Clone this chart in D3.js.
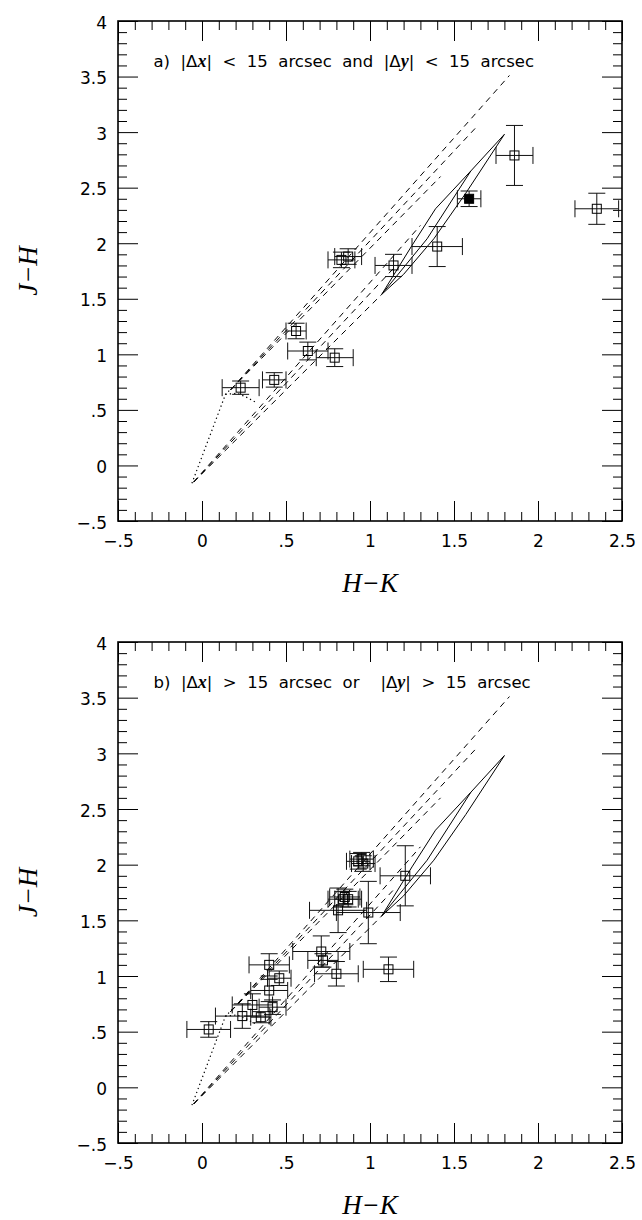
<!DOCTYPE html>
<html>
<head>
<meta charset="utf-8">
<script src="https://cdn.jsdelivr.net/npm/d3@7"></script>
<style>
  body { margin: 0; background: #fff; }
  svg { display: block; }
</style>
</head>
<body>
<svg id="chart" width="642" height="1220"></svg>
<script>
// ---------- axis ticks ----------
const xMajor = [-0.5, 0, 0.5, 1, 1.5, 2, 2.5];
const xTickLabels = ["\u2212.5", "0", ".5", "1", "1.5", "2", "2.5"];
const yMajor = [-0.5, 0, 0.5, 1, 1.5, 2, 2.5, 3, 3.5, 4];
const yTickLabels = ["\u2212.5", "0", ".5", "1", "1.5", "2", "2.5", "3", "3.5", "4"];

// ---------- panel a: |dx| < 15" and |dy| < 15" ----------
const hkA    = [0.23, 0.43, 0.56, 0.63, 0.79, 0.83, 0.87, 1.14, 1.40, 1.59, 1.86, 2.35];
const jhA    = [0.70, 0.77, 1.21, 1.03, 0.97, 1.85, 1.88, 1.80, 1.97, 2.40, 2.79, 2.31];
const hkErrA = [0.11, 0.07, 0.06, 0.12, 0.11, 0.08, 0.08, 0.11, 0.15, 0.07, 0.11, 0.13];
const jhErrA = [0.06, 0.065, 0.07, 0.08, 0.08, 0.07, 0.07, 0.10, 0.18, 0.07, 0.27, 0.14];
const filledA = [0, 0, 0, 0, 0, 0, 0, 0, 0, 1, 0, 0];

// ---------- panel b: |dx| > 15" or |dy| > 15" ----------
const hkB    = [0.04, 0.24, 0.30, 0.35, 0.42, 0.40, 0.46, 0.40, 0.71, 0.72, 0.80, 1.11, 0.99, 0.81, 0.84, 0.87, 0.85, 1.21, 0.93, 0.95, 0.96];
const jhB    = [0.52, 0.64, 0.74, 0.63, 0.72, 0.87, 0.98, 1.10, 1.22, 1.14, 1.02, 1.06, 1.57, 1.59, 1.69, 1.69, 1.71, 1.90, 2.03, 2.05, 2.01];
const hkErrB = [0.13, 0.16, 0.12, 0.06, 0.08, 0.11, 0.07, 0.12, 0.17, 0.09, 0.13, 0.15, 0.19, 0.17, 0.09, 0.08, 0.09, 0.15, 0.07, 0.07, 0.07];
const jhErrB = [0.07, 0.11, 0.10, 0.05, 0.065, 0.10, 0.065, 0.10, 0.14, 0.06, 0.11, 0.11, 0.28, 0.20, 0.07, 0.07, 0.07, 0.27, 0.07, 0.06, 0.07];
const filledB = hkB.map(() => 0);

// ---------- loci (same in both panels) ----------
// main sequence and late-type dwarf branch (dotted)
const mainSeq = [[-0.06, -0.16], [0.14, 0.64], [0.18, 0.70]];
const dwarfBranch = [[0.14, 0.64], [0.21, 0.65], [0.27, 0.61], [0.33, 0.56]];
// reddening vectors (dashed)
const reddenUpper = [
  [[0.17, 0.68], [1.83, 3.51]],
  [[0.17, 0.68], [1.63, 3.04]],
  [[0.17, 0.68], [1.42, 2.60]]
];
const reddenLower = [
  [[-0.05, -0.15], [1.30, 2.16]],
  [[-0.05, -0.15], [1.15, 1.79]],
  [[-0.05, -0.15], [1.07, 1.54]]
];
// solid model loci
const solidLoci = [
  [[1.07, 1.54], [1.25, 1.98], [1.39, 2.31], [1.60, 2.65], [1.80, 2.98]],
  [[1.07, 1.54], [1.20, 1.72], [1.38, 2.04], [1.57, 2.45], [1.80, 2.98]],
  [[1.07, 1.54], [1.34, 2.04], [1.60, 2.65]]
];

const titleA = "a) |\u0394{x}| < 15 arcsec and |\u0394{y}| < 15 arcsec";
const titleB = "b) |\u0394{x}| > 15 arcsec or  |\u0394{y}| > 15 arcsec";

// ---------- drawing ----------
const svg = d3.select("#chart");
const left = 118, right = 622;
const sansFont = "'DejaVu Sans', 'Liberation Sans', sans-serif";
const serifFont = "'Liberation Serif', 'DejaVu Serif', serif";
const xMinor = d3.range(-5, 26).map(i => i / 10).filter(v => Math.abs(v * 2 - Math.round(v * 2)) > 1e-6);
const yMinor = d3.range(-5, 41).map(i => i / 10).filter(v => Math.abs(v * 2 - Math.round(v * 2)) > 1e-6);

function drawPanel(top, bottom, hk, jh, hkErr, jhErr, filled, title) {
  const x = d3.scaleLinear([-0.5, 2.5], [left, right]);
  const y = d3.scaleLinear([-0.5, 4], [bottom, top]);
  const g = svg.append("g");

  const strip = s => s.select(".domain").remove();

  // bottom axis with labels
  g.append("g").attr("transform", `translate(0,${bottom})`)
    .call(d3.axisBottom(x).tickValues(xMajor).tickSize(-20).tickSizeOuter(0)
      .tickFormat((d, i) => xTickLabels[i]))
    .call(strip)
    .call(s => s.selectAll("text").attr("y", 26).attr("dy", null)
      .attr("font-family", sansFont).attr("font-size", 17).attr("fill", "#000"));
  g.append("g").attr("transform", `translate(0,${bottom})`)
    .call(d3.axisBottom(x).tickValues(xMinor).tickSize(-9).tickSizeOuter(0).tickFormat(""))
    .call(strip);
  // top axis
  g.append("g").attr("transform", `translate(0,${top})`)
    .call(d3.axisTop(x).tickValues(xMajor).tickSize(-20).tickSizeOuter(0).tickFormat(""))
    .call(strip);
  g.append("g").attr("transform", `translate(0,${top})`)
    .call(d3.axisTop(x).tickValues(xMinor).tickSize(-9).tickSizeOuter(0).tickFormat(""))
    .call(strip);
  // left axis with labels
  g.append("g").attr("transform", `translate(${left},0)`)
    .call(d3.axisLeft(y).tickValues(yMajor).tickSize(-20).tickSizeOuter(0)
      .tickFormat((d, i) => yTickLabels[i]))
    .call(strip)
    .call(s => s.selectAll("text").attr("x", -11).attr("dy", 7)
      .attr("font-family", sansFont).attr("font-size", 17).attr("fill", "#000"));
  g.append("g").attr("transform", `translate(${left},0)`)
    .call(d3.axisLeft(y).tickValues(yMinor).tickSize(-9).tickSizeOuter(0).tickFormat(""))
    .call(strip);
  // right axis
  g.append("g").attr("transform", `translate(${right},0)`)
    .call(d3.axisRight(y).tickValues(yMajor).tickSize(-20).tickSizeOuter(0).tickFormat(""))
    .call(strip);
  g.append("g").attr("transform", `translate(${right},0)`)
    .call(d3.axisRight(y).tickValues(yMinor).tickSize(-9).tickSizeOuter(0).tickFormat(""))
    .call(strip);

  // frame
  g.append("rect").attr("x", left).attr("y", top)
    .attr("width", right - left).attr("height", bottom - top)
    .attr("fill", "none").attr("stroke", "#000").attr("stroke-width", 1.6);

  const line = d3.line().x(d => x(d[0])).y(d => y(d[1]));

  // dotted intrinsic sequences
  [mainSeq, dwarfBranch].forEach(p => g.append("path").attr("d", line(p))
    .attr("fill", "none").attr("stroke", "#000").attr("stroke-width", 1.2)
    .attr("stroke-dasharray", "1.3,3"));
  // dashed reddening vectors
  reddenUpper.concat(reddenLower).forEach(p => g.append("path").attr("d", line(p))
    .attr("fill", "none").attr("stroke", "#000").attr("stroke-width", 1)
    .attr("stroke-dasharray", "6,5"));
  // solid loci
  solidLoci.forEach(p => g.append("path").attr("d", line(p))
    .attr("fill", "none").attr("stroke", "#000").attr("stroke-width", 1));

  // error bars and markers
  const cap = 8.5, half = 4.5;
  const pts = hk.map((v, i) => ({ hk: v, jh: jh[i], ex: hkErr[i], ey: jhErr[i], f: filled[i] }));
  const eb = g.append("g").attr("stroke", "#111").attr("stroke-width", 1).attr("fill", "none");
  pts.forEach(p => {
    const cx = x(p.hk), cy = y(p.jh);
    const x0 = x(p.hk - p.ex), x1 = x(p.hk + p.ex);
    const y0 = y(p.jh - p.ey), y1 = y(p.jh + p.ey);
    eb.append("path").attr("d",
      `M${x0},${cy}H${x1}M${x0},${cy - cap}V${cy + cap}M${x1},${cy - cap}V${cy + cap}` +
      `M${cx},${y0}V${y1}M${cx - cap},${y0}H${cx + cap}M${cx - cap},${y1}H${cx + cap}`);
  });
  g.append("g").selectAll("rect").data(pts).join("rect")
    .attr("x", d => x(d.hk) - half).attr("y", d => y(d.jh) - half)
    .attr("width", half * 2).attr("height", half * 2)
    .attr("fill", d => d.f ? "#000" : "none")
    .attr("stroke", "#000").attr("stroke-width", 1);

  // panel caption
  const tg = g.append("g").attr("font-family", sansFont).attr("font-size", 16.5).attr("fill", "#000");
  let cx = 153.5;
  const gap = 10.5;
  const base = top + 46;
  title.split(" ").forEach(w => {
    if (w === "") { cx += gap; return; }
    const t = tg.append("text").attr("x", cx).attr("y", base);
    w.split(/(\{[^}]*\})/).filter(s => s).forEach(part => {
      if (part.startsWith("{")) {
        t.append("tspan").text(part.slice(1, -1))
          .attr("font-family", serifFont).attr("font-style", "italic")
          .attr("font-weight", "bold").attr("font-size", 18);
      } else {
        t.append("tspan").text(part);
      }
    });
    cx += t.node().getComputedTextLength() + gap;
  });

  // axis titles
  g.append("text").attr("x", (left + right) / 2).attr("y", bottom + 71)
    .attr("text-anchor", "middle").attr("font-family", serifFont)
    .attr("font-style", "italic").attr("font-size", 27).text("H\u2212K");
  g.append("text")
    .attr("transform", `translate(37,${(top + bottom) / 2}) rotate(-90)`)
    .attr("text-anchor", "middle").attr("font-family", serifFont)
    .attr("font-style", "italic").attr("font-size", 27).text("J\u2212H");
}

drawPanel(21, 521, hkA, jhA, hkErrA, jhErrA, filledA, titleA);
drawPanel(642, 1143, hkB, jhB, hkErrB, jhErrB, filledB, titleB);
</script>
</body>
</html>
